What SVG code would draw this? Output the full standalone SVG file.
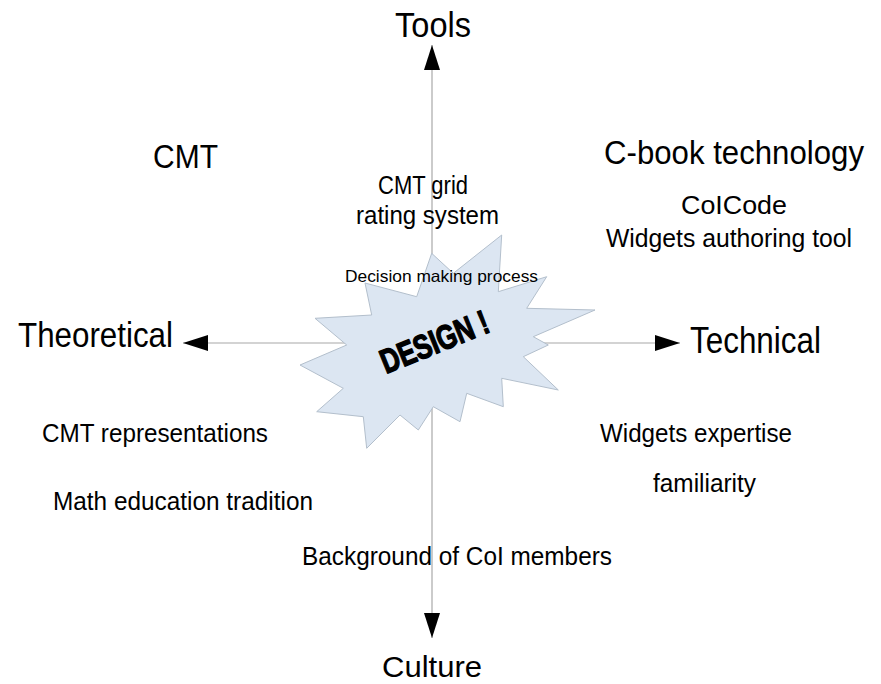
<svg xmlns="http://www.w3.org/2000/svg" width="881" height="684" viewBox="0 0 881 684">
<defs>
<marker id="arr" markerUnits="userSpaceOnUse" markerWidth="26" markerHeight="16" refX="25" refY="8" orient="auto">
<path d="M0,0 L25,8 L0,16 z" fill="#000"/>
</marker>
<style>
.ax{stroke:#a8a8a8;stroke-width:1.2;fill:none}
.t{font-family:"Liberation Sans",Arial,sans-serif;fill:#000}
.star{fill:#dce6f2;stroke:#b3bfcc;stroke-width:1}
</style>
</defs>
<rect width="881" height="684" fill="#fff"/>
<g id="connectors">
<line class="ax" x1="432" y1="343" x2="432" y2="45" marker-end="url(#arr)"/>
<line class="ax" x1="432" y1="343" x2="432" y2="638" marker-end="url(#arr)"/>
<line class="ax" x1="432" y1="343" x2="183" y2="343" marker-end="url(#arr)"/>
<line class="ax" x1="432" y1="343" x2="680" y2="343" marker-end="url(#arr)"/>
</g>
<g id="design">
<polygon class="star" points="431.7,253.3 453.3,273.3 501.7,235 498.3,291.7 546.7,276.7 526.7,308.3 595,310 533.3,336.7 548.3,345 523.3,356.7 558.3,390 501.7,378.3 503.3,406.7 466.7,393.3 460,421.7 433.3,406.7 418.3,430 400,415 366.7,448.3 363.3,416.7 316.7,411.7 343.3,388.3 300,365 346.7,345 315,318.3 371.7,315 365,283 416.7,296.7"/>
<text class="t" x="386" y="374" transform="rotate(-22 386 374)" font-size="34" font-weight="900" stroke="#000" stroke-width="1.4" stroke-linejoin="round" textLength="114" lengthAdjust="spacingAndGlyphs">DESIGN !</text>
</g>
<g id="tools"><text class="t" x="395" y="37" font-size="35" textLength="76" lengthAdjust="spacingAndGlyphs">Tools</text></g>
<g id="culture"><text class="t" x="382" y="677" font-size="30" textLength="100" lengthAdjust="spacingAndGlyphs">Culture</text></g>
<g id="theoretical"><text class="t" x="18" y="347" font-size="35" textLength="155" lengthAdjust="spacingAndGlyphs">Theoretical</text></g>
<g id="technical"><text class="t" x="690" y="353" font-size="36" textLength="131" lengthAdjust="spacingAndGlyphs">Technical</text></g>
<g id="cmt"><text class="t" x="153" y="168" font-size="32.5" textLength="65" lengthAdjust="spacingAndGlyphs">CMT</text></g>
<g id="cbook"><text class="t" x="604" y="164" font-size="32.5" textLength="260" lengthAdjust="spacingAndGlyphs">C-book technology</text></g>
<g id="cmtgrid">
<text class="t" x="378" y="194" font-size="25" textLength="90" lengthAdjust="spacingAndGlyphs">CMT grid</text>
<text class="t" x="356" y="224" font-size="25" textLength="143" lengthAdjust="spacingAndGlyphs">rating system</text>
</g>
<g id="colcode">
<text class="t" x="681" y="214" font-size="25" textLength="106" lengthAdjust="spacingAndGlyphs">CoICode</text>
<text class="t" x="606" y="247" font-size="25" textLength="246" lengthAdjust="spacingAndGlyphs">Widgets authoring tool</text>
</g>
<g id="decision"><text class="t" x="345" y="282" font-size="16.5" textLength="193" lengthAdjust="spacingAndGlyphs">Decision making process</text></g>
<g id="cmtrep"><text class="t" x="42" y="442" font-size="25.5" textLength="226" lengthAdjust="spacingAndGlyphs">CMT representations</text></g>
<g id="math"><text class="t" x="53" y="510" font-size="25.5" textLength="260" lengthAdjust="spacingAndGlyphs">Math education tradition</text></g>
<g id="widgets"><text class="t" x="600" y="442" font-size="25.5" textLength="192" lengthAdjust="spacingAndGlyphs">Widgets expertise</text></g>
<g id="familiarity"><text class="t" x="653" y="492" font-size="25.5" textLength="103" lengthAdjust="spacingAndGlyphs">familiarity</text></g>
<g id="background"><text class="t" x="302" y="565" font-size="26.5" textLength="310" lengthAdjust="spacingAndGlyphs">Background of CoI members</text></g>
</svg>
